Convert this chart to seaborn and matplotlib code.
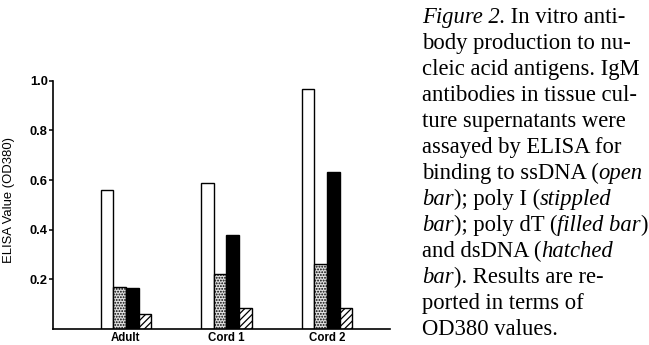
import matplotlib
matplotlib.use("Agg")
import matplotlib.pyplot as plt
from matplotlib.font_manager import FontProperties
import seaborn as sns
import pandas as pd

# ---- data ----
groups = ["Adult", "Cord 1", "Cord 2"]
antigens = ["ssDNA", "poly I", "poly dT", "dsDNA"]
ssdna = [0.56, 0.587, 0.966]
poly_i = [0.168, 0.22, 0.262]
poly_dt = [0.164, 0.38, 0.634]
dsdna = [0.06, 0.085, 0.083]
ytick_values = [0.2, 0.4, 0.6, 0.8, 1.0]
ytick_labels = ["0.2", "0.4", "0.6", "0.8", "1.0"]
ylabel = "ELISA Value (OD380)"

caption_lines = [
    [("Figure 2.", "italic"), (" In vitro anti-", "normal")],
    [("body production to nu-", "normal")],
    [("cleic acid antigens. IgM", "normal")],
    [("antibodies in tissue cul-", "normal")],
    [("ture supernatants were", "normal")],
    [("assayed by ELISA for", "normal")],
    [("binding to ssDNA (", "normal"), ("open", "italic")],
    [("bar", "italic"), ("); poly I (", "normal"), ("stippled", "italic")],
    [("bar", "italic"), ("); poly dT (", "normal"), ("filled bar", "italic"), (")", "normal")],
    [("and dsDNA (", "normal"), ("hatched", "italic")],
    [("bar", "italic"), ("). Results are re-", "normal")],
    [("ported in terms of", "normal")],
    [("OD380 values.", "normal")],
]

sns.set_theme(style="ticks")
plt.rcParams["font.family"] = ["Liberation Sans", "DejaVu Sans"]
plt.rcParams["hatch.linewidth"] = 0.9

W, H = 649, 345
fig = plt.figure(figsize=(W / 100, H / 100), dpi=100)
fig.patch.set_facecolor("white")
ax = fig.add_axes([53 / W, 16 / H, 337 / W, 248.3 / H])
ax.set_facecolor("white")

df = pd.DataFrame({
    "group": groups * 4,
    "antigen": [a for a in antigens for _ in groups],
    "value": ssdna + poly_i + poly_dt + dsdna,
})

sns.barplot(data=df, x="group", y="value", hue="antigen", order=groups,
            hue_order=antigens, width=0.5, dodge=True, saturation=1,
            palette=["white", "#e2e2e2", "black", "white"],
            edgecolor="black", linewidth=1.0, errorbar=None, legend=False, ax=ax)

for cont, h in zip(ax.containers, [None, "......", None, "/////"]):
    for bar in cont:
        if h:
            bar.set_hatch(h)

ax.set_xlim(-0.726, 2.627)
ax.set_ylim(0, 1.0)
ax.set_yticks(ytick_values)
ax.set_yticklabels(ytick_labels)
sns.despine(ax=ax)
for s in ["left", "bottom"]:
    ax.spines[s].set_linewidth(1.2)
    ax.spines[s].set_color("black")
ax.tick_params(axis="y", direction="out", length=3.2, width=1.1, pad=0.5,
               labelsize=9.3, colors="black")
for lab in ax.get_yticklabels():
    lab.set_fontweight("bold")
ax.tick_params(axis="x", length=0, pad=2.5, labelsize=8.3, colors="black")
for lab in ax.get_xticklabels():
    lab.set_fontweight("bold")
ax.set_xlabel("")
ax.set_ylabel(ylabel, fontsize=9.4, color="black")
ax.yaxis.set_label_coords(-0.113, 0.52)

# ---- caption ----
renderer = fig.canvas.get_renderer()
fs = 16.3


def seg_width(s, prop):
    w1, _, _ = renderer.get_text_width_height_descent("|" + s + "|", prop, ismath=False)
    w0, _, _ = renderer.get_text_width_height_descent("||", prop, ismath=False)
    return w1 - w0


x0 = 422
for i, line in enumerate(caption_lines):
    ybase = 23 + 26 * i
    x = x0
    for text, style in line:
        prop = FontProperties(family=["Liberation Serif", "DejaVu Serif"], style=style, size=fs)
        fig.text(x / W, 1 - ybase / H, text, fontproperties=prop, ha="left",
                 va="baseline", color="black")
        x += seg_width(text, prop)

fig.savefig("out.png", dpi=100, facecolor="white")
